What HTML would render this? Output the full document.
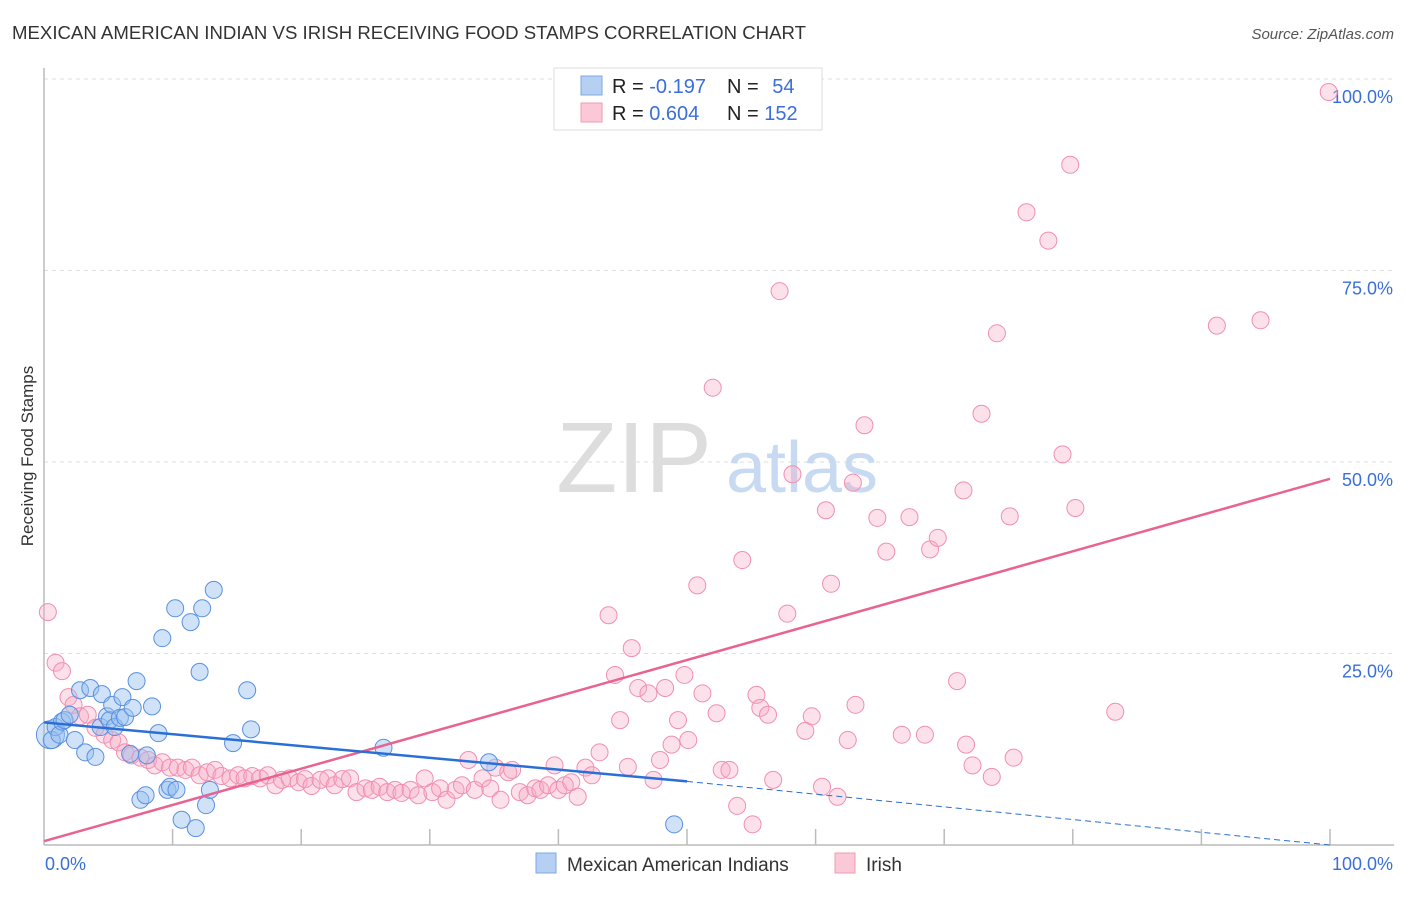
<!DOCTYPE html>
<html><head><meta charset="utf-8">
<style>
body{margin:0;background:#fff;font-family:"Liberation Sans",sans-serif;}
svg text{font-family:"Liberation Sans",sans-serif;}
</style></head>
<body>
<svg id="chart" width="1406" height="892" xmlns="http://www.w3.org/2000/svg">
<text x="12" y="39" font-size="18" fill="#333" textLength="794" lengthAdjust="spacingAndGlyphs">MEXICAN AMERICAN INDIAN VS IRISH RECEIVING FOOD STAMPS CORRELATION CHART</text>
<text x="1394" y="39" font-size="15" fill="#555" font-style="italic" text-anchor="end">Source: ZipAtlas.com</text>
<text transform="translate(33,456) rotate(-90)" font-size="17" fill="#333" text-anchor="middle">Receiving Food Stamps</text>
<g id="grid"></g>
<g><text x="634" y="492" font-size="100" fill="#ddd" font-family="Liberation Serif,serif" text-anchor="middle">ZIP</text><text x="802" y="492" font-size="72" fill="#c8daf2" text-anchor="middle">atlas</text></g>
<g id="axes"></g>
<g id="pts"></g>
<g id="lines"></g>
<g>
<rect x="554" y="68" width="268" height="62" fill="#fff" stroke="#ddd"/>
<rect x="581" y="76" width="21" height="19" fill="#b5d0f3" stroke="#7fa8e3"/>
<rect x="581" y="103" width="21" height="19" fill="#fbc8d8" stroke="#f09ab5"/>
<text x="612" y="93" font-size="20" fill="#222">R = <tspan fill="#3a6fd8">-0.197</tspan></text>
<text x="727" y="93" font-size="20" fill="#222">N = <tspan fill="#3a6fd8" dx="8">54</tspan></text>
<text x="612" y="120" font-size="20" fill="#222">R = <tspan fill="#3a6fd8">0.604</tspan></text>
<text x="727" y="120" font-size="20" fill="#222">N = <tspan fill="#3a6fd8">152</tspan></text>
</g>
<g>
<rect x="536" y="853" width="20" height="20" fill="#b5d0f3" stroke="#7fa8e3"/>
<text x="567" y="871" font-size="19" fill="#333">Mexican American Indians</text>
<rect x="835" y="853" width="20" height="20" fill="#fbc8d8" stroke="#f09ab5"/>
<text x="866" y="871" font-size="19" fill="#333">Irish</text>
</g>
</svg>
<script>
const blueX=[0.5,0.6,0.9,1.2,1.4,1.6,2.0,2.4,2.8,3.2,3.6,4.0,4.4,4.5,4.9,5.1,5.3,5.5,5.9,6.1,6.3,6.7,6.9,7.2,7.5,7.9,8.0,8.4,8.9,9.2,9.6,9.8,10.2,10.3,10.7,11.4,11.8,12.1,12.3,12.6,12.9,13.2,14.7,15.8,16.1,26.4,34.6,49.0];
const blueY=[14.4,13.7,15.4,14.4,16.1,16.3,17.0,13.7,20.2,12.1,20.5,11.5,15.4,19.7,16.8,16.3,18.3,15.4,16.6,19.3,16.7,11.9,17.9,21.4,5.9,6.5,11.7,18.1,14.6,27.0,7.2,7.6,30.9,7.2,3.3,29.1,2.2,22.6,30.9,5.2,7.2,33.3,13.3,20.2,15.1,12.7,10.8,2.7];
const pinkX=[0.3,0.9,1.4,1.9,2.3,2.8,3.4,4.0,4.7,5.3,5.8,6.3,6.8,7.5,8.1,8.6,9.2,9.8,10.4,11.0,11.5,12.1,12.7,13.3,13.8,14.5,15.1,15.6,16.2,16.8,17.4,18.0,18.5,19.1,19.8,20.3,20.8,21.5,22.1,22.6,23.2,23.8,24.3,25.0,25.5,26.1,26.7,27.3,27.8,28.5,29.1,29.6,30.2,30.8,31.3,32.0,32.5,33.0,33.5,34.1,34.7,35.1,35.5,36.1,36.4,37.0,37.6,38.2,38.6,39.2,39.7,40.0,40.5,41.0,41.5,42.1,42.6,43.2,43.9,44.4,44.8,45.4,45.7,46.2,47.0,47.4,47.9,48.3,48.8,49.3,49.8,50.1,50.8,51.2,52.0,52.3,52.7,53.3,53.9,54.3,55.1,55.4,55.7,56.3,56.7,57.2,57.8,58.2,59.2,59.7,60.5,60.8,61.2,61.7,62.5,62.9,63.1,63.8,64.8,65.5,66.7,67.3,68.5,68.9,69.5,71.0,71.5,71.7,72.2,72.9,73.7,74.1,75.1,75.4,76.4,78.1,79.2,79.8,80.2,83.3,91.2,94.6,99.9];
const pinkY=[30.4,23.8,22.7,19.3,18.3,16.8,17.0,15.3,14.4,13.7,13.4,12.1,11.7,11.4,11.1,10.4,10.8,10.1,10.1,9.8,10.1,9.1,9.5,9.8,9.0,8.7,9.1,8.7,9.0,8.7,9.1,7.8,8.5,8.7,8.2,8.6,7.7,8.5,8.7,7.8,8.6,8.7,6.9,7.4,7.2,7.6,6.9,7.2,6.8,7.2,6.5,8.7,6.9,7.4,5.9,7.2,7.8,11.1,7.2,8.7,7.4,10.1,5.9,9.5,9.8,6.9,6.5,7.4,7.2,7.8,10.4,7.2,7.8,8.2,6.3,10.1,9.1,12.1,30.0,22.2,16.3,10.2,25.7,20.5,19.8,8.5,11.1,20.5,13.1,16.3,22.2,13.7,33.9,19.8,59.7,17.2,9.8,9.8,5.1,37.2,2.7,19.6,17.9,17.0,8.5,72.3,30.2,48.4,14.9,16.8,7.6,43.7,34.1,6.3,13.7,47.3,18.3,54.8,42.7,38.3,14.4,42.8,14.4,38.6,40.1,21.4,46.3,13.1,10.4,56.3,8.9,66.8,42.9,11.4,82.6,78.9,51.0,88.8,44.0,17.4,67.8,68.5,98.3];
const yTicks=[25,50,75,100];
const yTickLabels=["25.0%","50.0%","75.0%","100.0%"];
const xTicks=[10,20,30,40,50,60,70,80,90,100];
const blueTrend=[16.0,8.3,0.0];
const pinkTrend=[0.5,47.8];

const X0=44,X1=1330,Y0=845,Y1=79;
const sx=v=>X0+(X1-X0)*v/100;
const sy=v=>Y0-(Y0-Y1)*v/100;
const NS="http://www.w3.org/2000/svg";
function mk(tag,attrs,parent){const e=document.createElementNS(NS,tag);for(const k in attrs)e.setAttribute(k,attrs[k]);parent.appendChild(e);return e;}
const grid=document.getElementById('grid'),axes=document.getElementById('axes'),pts=document.getElementById('pts'),lines=document.getElementById('lines');
yTicks.forEach((t,i)=>{
  const l=mk('line',{x1:X0,x2:1394,y1:sy(t),y2:sy(t),stroke:'#ddd','stroke-dasharray':'4,4'},grid);
  
  
  const tx=mk('text',{x:1393,y:sy(t)+24,'font-size':18,fill:'#3a6fd8','text-anchor':'end'},axes);
  tx.textContent=yTickLabels[i];
  
  
});
mk('line',{x1:X0,x2:X0,y1:68,y2:Y0,stroke:'#bbb','stroke-width':1.5},axes);
mk('line',{x1:X0,x2:1394,y1:Y0,y2:Y0,stroke:'#bbb','stroke-width':1.5},axes);
xTicks.forEach(t=>{
  const l=mk('line',{x1:sx(t),x2:sx(t),y1:Y0-16,y2:Y0,stroke:'#bbb','stroke-width':1.5},axes);
  
  
});
const xl0=mk('text',{x:45,y:870,'font-size':18,fill:'#3a6fd8'},axes);xl0.textContent='0.0%';


const xl1=mk('text',{x:1393,y:870,'font-size':18,fill:'#3a6fd8','text-anchor':'end'},axes);xl1.textContent='100.0%';



pinkX.forEach((x,i)=>{
  const c=mk('circle',{cx:sx(x),cy:sy(pinkY[i]),r:8.5,fill:'rgba(246,170,195,0.35)',stroke:'#f08fb0','stroke-width':1},pts);
  
  
});
blueX.forEach((x,i)=>{
  const c=mk('circle',{cx:sx(x),cy:sy(blueY[i]),r:i==0?14:8.5,fill:'rgba(150,190,240,0.45)',stroke:'#5a90e0','stroke-width':1},pts);
  
  
});
const pl=mk('line',{x1:sx(0),y1:sy(pinkTrend[0]),x2:sx(100),y2:sy(pinkTrend[1]),stroke:'#e8638f','stroke-width':2.5},lines);


const bl=mk('line',{x1:sx(0),y1:sy(blueTrend[0]),x2:sx(50),y2:sy(blueTrend[1]),stroke:'#2a6fd6','stroke-width':2.5},lines);


const bd=mk('line',{x1:sx(50),y1:sy(blueTrend[1]),x2:sx(100),y2:sy(blueTrend[2]),stroke:'#2a6fd6','stroke-width':1,'stroke-dasharray':'6,4'},lines);


</script>
</body></html>
